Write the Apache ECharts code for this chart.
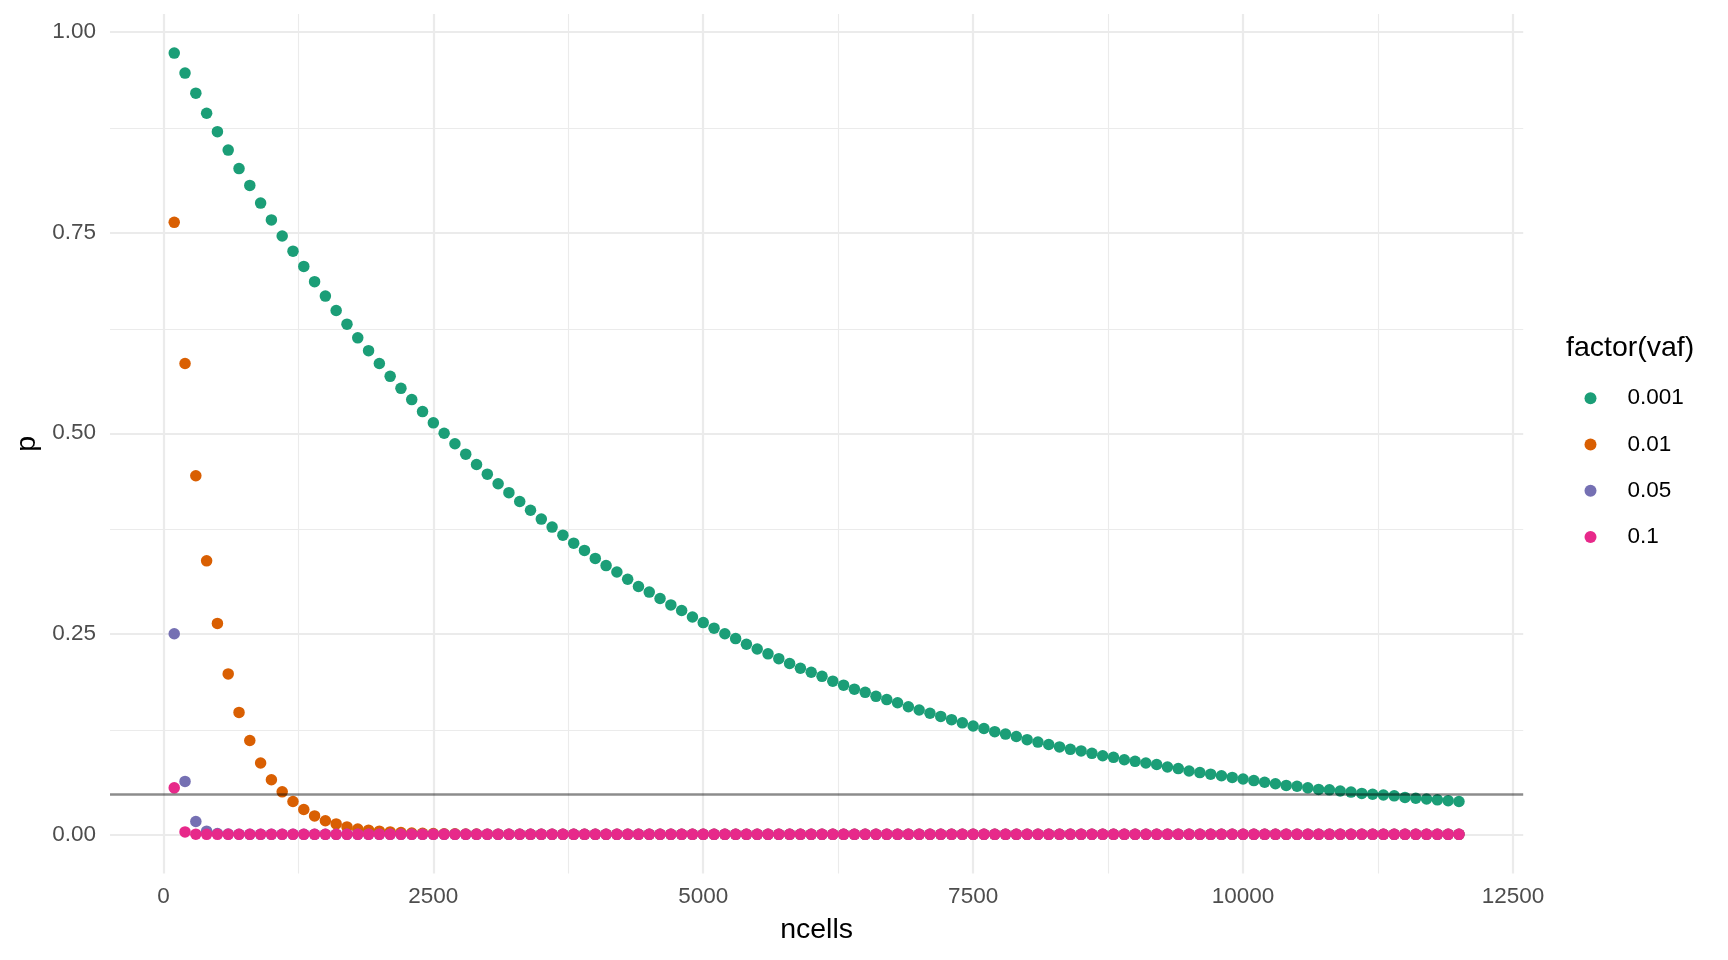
<!DOCTYPE html>
<html>
<head>
<meta charset="utf-8">
<script src="https://cdn.jsdelivr.net/npm/echarts@6/dist/echarts.min.js"></script>
<style>
html,body{margin:0;padding:0;background:#fff;}
#chart{width:1728px;height:960px;}
</style>
</head>
<body>
<div id="chart"></div>
<script>
// ---- data ----
const ncells = [
  100,200,300,400,500,600,700,800,900,1000,
  1100,1200,1300,1400,1500,1600,1700,1800,1900,2000,
  2100,2200,2300,2400,2500,2600,2700,2800,2900,3000,
  3100,3200,3300,3400,3500,3600,3700,3800,3900,4000,
  4100,4200,4300,4400,4500,4600,4700,4800,4900,5000,
  5100,5200,5300,5400,5500,5600,5700,5800,5900,6000,
  6100,6200,6300,6400,6500,6600,6700,6800,6900,7000,
  7100,7200,7300,7400,7500,7600,7700,7800,7900,8000,
  8100,8200,8300,8400,8500,8600,8700,8800,8900,9000,
  9100,9200,9300,9400,9500,9600,9700,9800,9900,10000,
  10100,10200,10300,10400,10500,10600,10700,10800,10900,11000,
  11100,11200,11300,11400,11500,11600,11700,11800,11900,12000
];
const vafLevels = ['0.001','0.01','0.05','0.1'];
const p_vaf0001 = [
  0.974,0.949,0.924,0.899,0.876,0.853,0.830,0.809,0.787,0.766,
  0.746,0.727,0.708,0.689,0.671,0.653,0.636,0.619,0.603,0.587,
  0.571,0.556,0.542,0.527,0.513,0.500,0.487,0.474,0.461,0.449,
  0.437,0.426,0.415,0.404,0.393,0.383,0.373,0.363,0.354,0.344,
  0.335,0.327,0.318,0.309,0.302,0.294,0.286,0.279,0.271,0.264,
  0.257,0.250,0.244,0.237,0.231,0.225,0.219,0.213,0.207,0.202,
  0.197,0.191,0.186,0.181,0.177,0.172,0.168,0.164,0.159,0.155,
  0.151,0.147,0.143,0.139,0.135,0.132,0.128,0.125,0.122,0.118,
  0.115,0.112,0.109,0.106,0.104,0.101,0.098,0.096,0.093,0.091,
  0.089,0.087,0.084,0.082,0.079,0.077,0.075,0.073,0.071,0.069,
  0.067,0.065,0.063,0.061,0.060,0.058,0.056,0.0555,0.054,0.0527,
  0.051,0.050,0.049,0.048,0.046,0.045,0.044,0.043,0.042,0.041
];
const p_vaf001 = [
  0.763,0.587,0.447,0.341,0.263,0.200,0.152,0.117,0.089,0.068,
  0.053,0.041,0.031,0.023,0.017,0.013,0.0093,0.0067,0.0052,0.0040,
  0.0030,0.0023,0.0017,0.0013,0.0010,0.0008,0.0006,0.0004,0.0003,0.0002,
  0.0002,0.0001,0.0001,0,0,0,0,0,0,0,
  0,0,0,0,0,0,0,0,0,0,
  0,0,0,0,0,0,0,0,0,0,
  0,0,0,0,0,0,0,0,0,0,
  0,0,0,0,0,0,0,0,0,0,
  0,0,0,0,0,0,0,0,0,0,
  0,0,0,0,0,0,0,0,0,0,
  0,0,0,0,0,0,0,0,0,0,
  0,0,0,0,0,0,0,0,0,0
];
const p_vaf005 = [
  0.250,0.066,0.016,0.004,0.001,0.0003,0.0001,0,0,0,
  0,0,0,0,0,0,0,0,0,0,
  0,0,0,0,0,0,0,0,0,0,
  0,0,0,0,0,0,0,0,0,0,
  0,0,0,0,0,0,0,0,0,0,
  0,0,0,0,0,0,0,0,0,0,
  0,0,0,0,0,0,0,0,0,0,
  0,0,0,0,0,0,0,0,0,0,
  0,0,0,0,0,0,0,0,0,0,
  0,0,0,0,0,0,0,0,0,0,
  0,0,0,0,0,0,0,0,0,0,
  0,0,0,0,0,0,0,0,0,0
];
const p_vaf01 = [
  0.058,0.003,0.0002,0,0,0,0,0,0,0,
  0,0,0,0,0,0,0,0,0,0,
  0,0,0,0,0,0,0,0,0,0,
  0,0,0,0,0,0,0,0,0,0,
  0,0,0,0,0,0,0,0,0,0,
  0,0,0,0,0,0,0,0,0,0,
  0,0,0,0,0,0,0,0,0,0,
  0,0,0,0,0,0,0,0,0,0,
  0,0,0,0,0,0,0,0,0,0,
  0,0,0,0,0,0,0,0,0,0,
  0,0,0,0,0,0,0,0,0,0,
  0,0,0,0,0,0,0,0,0,0
];
const xTickLabels = [0,2500,5000,7500,10000,12500];
const xMinorBreaks = [1250,3750,6250,8750,11250];
const yTickLabels = [0,0.25,0.5,0.75,1];
const yMinorBreaks = [0.125,0.375,0.625,0.875];
const threshold = 0.05;

// ---- chart ----
const FONT = "'Liberation Sans', Arial, Helvetica, sans-serif";
const colors = ['#1B9E77','#D95F02','#7570B3','#E7298A'];
const seriesValues = [p_vaf0001, p_vaf001, p_vaf005, p_vaf01];

const GRID_COLOR = '#ebebeb';
const gridLines = [].concat(
  xTickLabels.map(v => ({xAxis: v, lineStyle:{color:GRID_COLOR, width:2.2, type:'solid'}})),
  xMinorBreaks.map(v => ({xAxis: v, lineStyle:{color:GRID_COLOR, width:1.1, type:'solid'}})),
  yTickLabels.map(v => ({yAxis: v, lineStyle:{color:GRID_COLOR, width:2.2, type:'solid'}})),
  yMinorBreaks.map(v => ({yAxis: v, lineStyle:{color:GRID_COLOR, width:1.1, type:'solid'}}))
);

const series = vafLevels.map((name, k) => {
  const s = {
    name: name,
    type: 'scatter',
    data: ncells.map((x, i) => [x, seriesValues[k][i]]),
    symbol: 'circle',
    symbolSize: 11.5,
    itemStyle: {color: colors[k], opacity: 1},
    emphasis: {disabled: true},
    z: 2
  };
  if (k === 0) {
    s.markLine = {
      silent: true, symbol: ['none','none'], label: {show:false},
      emphasis: {disabled: true}, animation: false, z: 1,
      data: gridLines
    };
  }
  if (k === vafLevels.length - 1) {
    s.markLine = {
      silent: true, symbol: ['none','none'], label: {show:false},
      emphasis: {disabled: true}, animation: false, z: 6,
      data: [{yAxis: threshold, lineStyle:{color:'rgba(0,0,0,0.45)', width:2.5, type:'solid'}}]
    };
  }
  return s;
});

const chart = echarts.init(document.getElementById('chart'), null, {renderer:'canvas'});
chart.setOption({
  animation: false,
  backgroundColor: '#ffffff',
  textStyle: {fontFamily: FONT},
  color: colors,
  grid: {left: 110, right: 204.8, top: 14, bottom: 86.6, containLabel: false},
  title: {
    text: 'factor(vaf)', left: 1566, top: 334, padding: 0,
    textStyle: {fontFamily: FONT, fontSize: 28.5, fontWeight: 'normal', color: '#000000'}
  },
  legend: {
    orient: 'vertical', left: 1579.5, top: 381.7,
    itemWidth: 64, itemHeight: 12, itemGap: 23.3,
    icon: 'circle', symbolKeepAspect: true,
    selectedMode: false,
    data: vafLevels,
    textStyle: {fontFamily: FONT, fontSize: 22.5, color: '#000000'}
  },
  xAxis: {
    type: 'value', min: -495, max: 12595,
    name: 'ncells', nameLocation: 'middle', nameGap: 42,
    nameTextStyle: {fontFamily: FONT, fontSize: 28.5, color: '#000000'},
    axisLine: {show: false}, axisTick: {show: false, customValues: xTickLabels},
    splitLine: {show: false}, minorSplitLine: {show: false},
    axisLabel: {customValues: xTickLabels, color: '#4d4d4d', fontSize: 22.5, margin: 12, fontFamily: FONT,
      formatter: v => String(v)}
  },
  yAxis: {
    type: 'value', min: -0.0487, max: 1.0227,
    name: 'p', nameLocation: 'middle', nameGap: 59, nameRotate: 90,
    nameTextStyle: {fontFamily: FONT, fontSize: 28.5, color: '#000000'},
    axisLine: {show: false}, axisTick: {show: false, customValues: yTickLabels},
    splitLine: {show: false}, minorSplitLine: {show: false},
    axisLabel: {customValues: yTickLabels, color: '#4d4d4d', fontSize: 22.5, margin: 14, fontFamily: FONT,
      formatter: v => v.toFixed(2)}
  },
  series: series
});
</script>
</body>
</html>
